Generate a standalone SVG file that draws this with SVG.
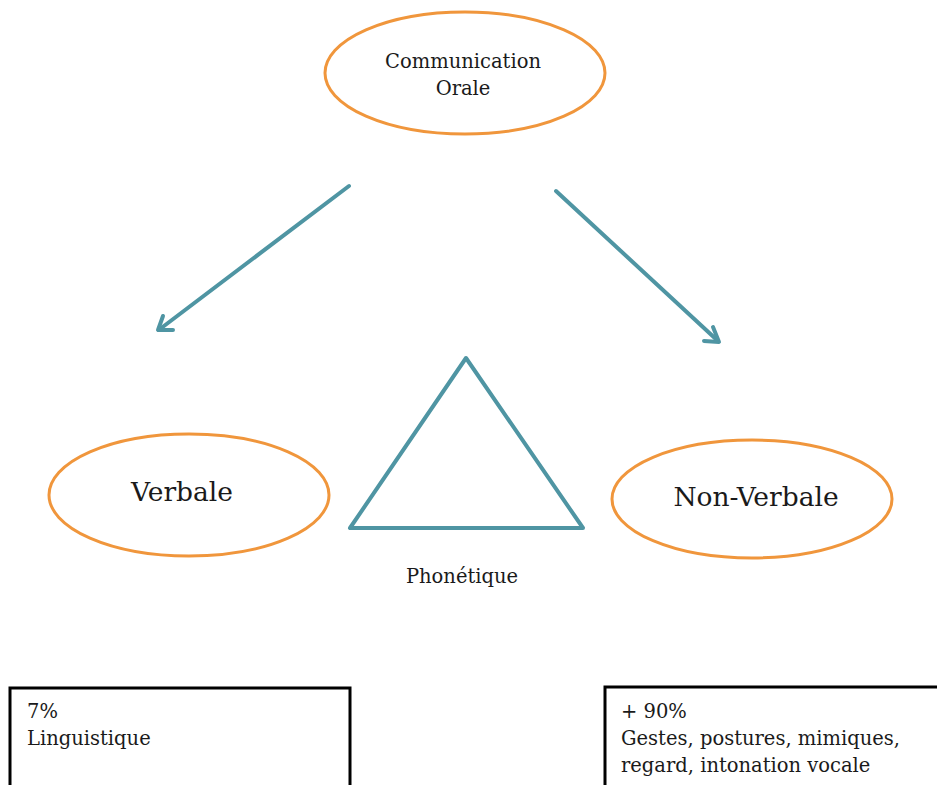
<svg xmlns="http://www.w3.org/2000/svg" width="937" height="785" viewBox="0 0 937 785">
<defs>
<style>
.ell{fill:#fff;stroke:#F0963C;stroke-width:3}
.con{stroke:#4F95A3;stroke-width:4;fill:none;stroke-linecap:round;stroke-linejoin:round}
.t{font-family:"DejaVu Serif","Liberation Serif",serif;fill:#1a1a1a}
.s{font-size:19.5px}
.b{font-size:26.5px}
.box{fill:#fff;stroke:#000;stroke-width:3}
</style>
</defs>
<rect width="937" height="785" fill="#fff"/>
<g id="connectors">
<line class="con" x1="349" y1="186" x2="160" y2="329"/>
<polyline class="con" points="163,316 158,330 173,330"/>
<line class="con" x1="556" y1="191" x2="718" y2="341"/>
<polyline class="con" points="713,327 719,342 704,341"/>
</g>
<g id="node-communication">
<ellipse class="ell" cx="465" cy="73" rx="140" ry="61"/>
<text class="t s" x="463" y="68" text-anchor="middle">Communication</text>
<text class="t s" x="463" y="95" text-anchor="middle">Orale</text>
</g>
<g id="node-verbale">
<ellipse class="ell" cx="189" cy="495" rx="140" ry="61"/>
<text class="t b" x="182" y="501" text-anchor="middle">Verbale</text>
</g>
<g id="node-nonverbale">
<ellipse class="ell" cx="752" cy="499" rx="140" ry="59"/>
<text class="t b" x="756" y="506" text-anchor="middle">Non-Verbale</text>
</g>
<g id="node-phonetique">
<polygon class="con" points="466,358 350,528 583,528"/>
<text class="t s" x="462" y="583" text-anchor="middle">Phonétique</text>
</g>
<g id="node-linguistique">
<rect class="box" x="10" y="688" width="340" height="110"/>
<text class="t s" x="27" y="718">7%</text>
<text class="t s" x="27" y="745">Linguistique</text>
</g>
<g id="node-nonverbal-details">
<rect class="box" x="605" y="687" width="340" height="110"/>
<text class="t s" x="621" y="718">+ 90%</text>
<text class="t s" x="621" y="745">Gestes, postures, mimiques,</text>
<text class="t s" x="621" y="772">regard, intonation vocale</text>
</g>
</svg>
